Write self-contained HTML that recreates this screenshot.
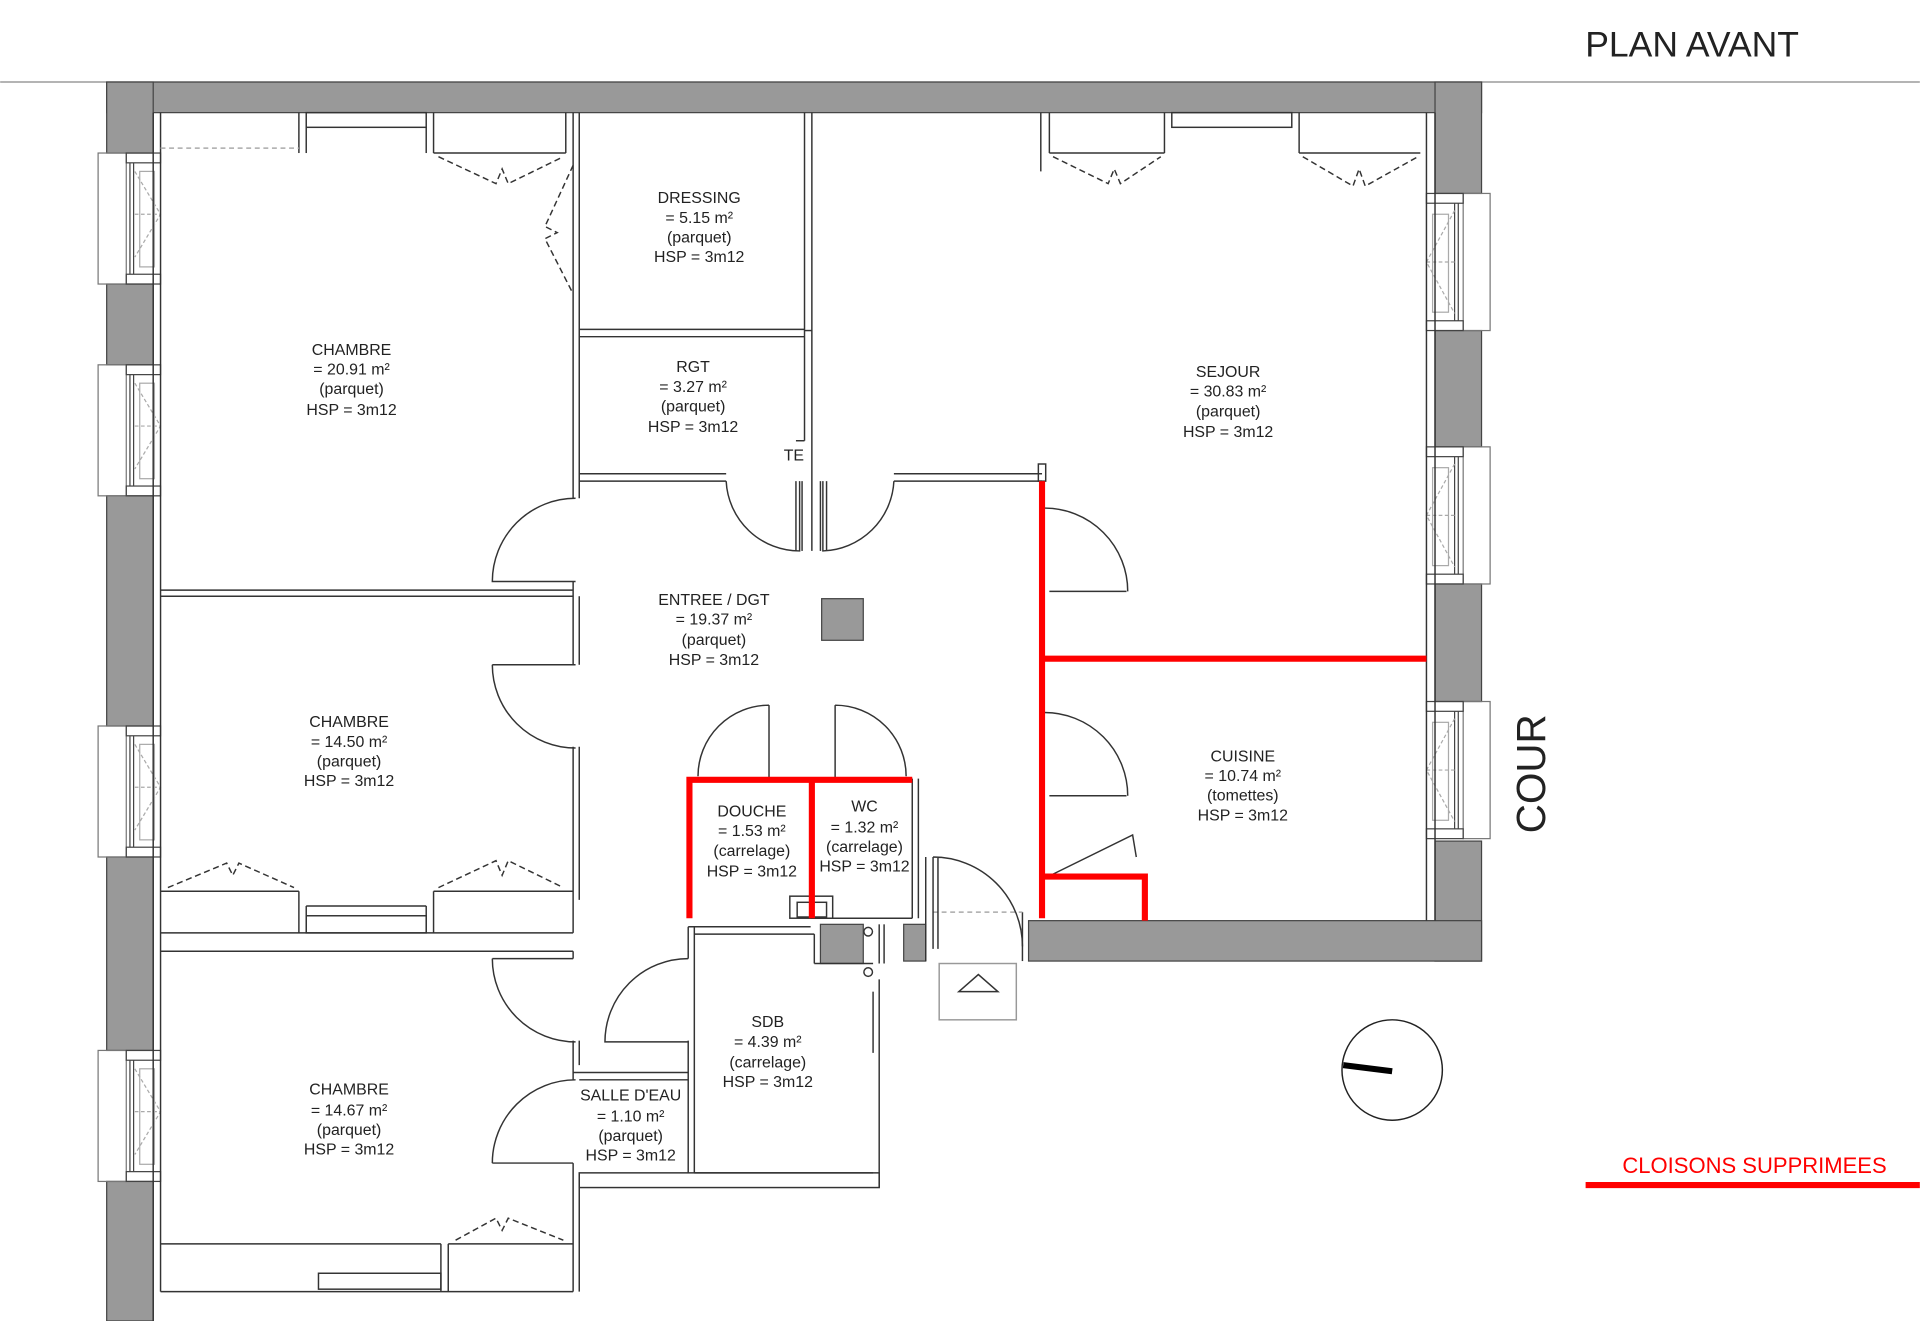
<!DOCTYPE html>
<html><head><meta charset="utf-8"><style>
html,body{margin:0;padding:0;background:#fff}
svg{display:block}
text{font-family:"Liberation Sans",sans-serif;fill:#222}
</style></head><body>
<svg width="1920" height="1321" viewBox="0 0 1568 1079" xmlns="http://www.w3.org/2000/svg">
<rect width="1568" height="1079" fill="#fff"/>
<text x="1382" y="46" font-size="29" text-anchor="middle" fill="#111">PLAN AVANT</text>
<line x1="0" y1="67" x2="1568" y2="67" stroke="#888" stroke-width="1"/>

<!-- grey walls -->
<g fill="#999" stroke="#444" stroke-width="1">
<rect x="87" y="67" width="1123" height="25"/>
<rect x="87" y="67" width="38" height="58"/>
<rect x="87" y="232" width="38" height="66"/>
<rect x="87" y="405" width="38" height="188"/>
<rect x="87" y="700" width="38" height="158"/>
<rect x="87" y="965" width="38" height="114"/>
<rect x="1172" y="67" width="38" height="91"/>
<rect x="1172" y="270" width="38" height="95"/>
<rect x="1172" y="477" width="38" height="96"/>
<rect x="1172" y="687" width="38" height="98"/>
<rect x="840" y="752" width="370" height="33"/>
<rect x="670" y="755" width="35" height="32"/>
<rect x="738" y="755" width="18" height="30"/>
<rect x="671" y="489" width="34" height="34"/>
</g>

<!-- windows left -->
<g fill="none" stroke="#444" stroke-width="1">
<g id="wl">
<rect x="80" y="125" width="23" height="107" stroke="#777"/>
<rect x="103" y="125" width="28" height="8"/>
<rect x="103" y="224" width="28" height="8"/>
<line x1="106" y1="133" x2="106" y2="224"/><line x1="109" y1="133" x2="109" y2="224"/>
<rect x="114" y="140" width="12" height="78" stroke="#aaa"/>
<path d="M110 140 L131 175 L110 210 M110 175 L131 175" stroke="#aaa" stroke-dasharray="3 2"/>
</g>
<use href="#wl" y="173"/>
<use href="#wl" y="468"/>
<use href="#wl" y="733"/>
<g id="wr">
<rect x="1195" y="158" width="22" height="112" stroke="#777"/>
<rect x="1165" y="158" width="30" height="8"/>
<rect x="1165" y="262" width="30" height="8"/>
<line x1="1188" y1="166" x2="1188" y2="262"/><line x1="1191" y1="166" x2="1191" y2="262"/>
<rect x="1170" y="175" width="13" height="80" stroke="#aaa"/>
<path d="M1188 172 L1165 214 L1188 256 M1165 214 L1188 214" stroke="#aaa" stroke-dasharray="3 2"/>
</g>
<use href="#wr" y="207"/>
<use href="#wr" y="415"/>
</g>

<!-- interior walls -->
<g fill="none" stroke="#333" stroke-width="1.2">
<!-- perimeter inner lines -->
<line x1="125" y1="92" x2="125" y2="1079"/><line x1="131" y1="92" x2="131" y2="1055"/>
<line x1="1165" y1="92" x2="1165" y2="752"/><line x1="1172" y1="92" x2="1172" y2="752"/>
<!-- top closets chambre1 -->
<rect x="250" y="92" width="98" height="12"/><line x1="244" y1="92" x2="244" y2="125"/><line x1="250" y1="104" x2="250" y2="125"/>
<line x1="348" y1="104" x2="348" y2="125"/><line x1="354" y1="92" x2="354" y2="125"/>
<line x1="131" y1="121" x2="244" y2="121" stroke="#aaa" stroke-dasharray="4 3"/>
<line x1="354" y1="125" x2="462" y2="125"/>
<path d="M358 128 L405 150 L410 138 L415 150 L460 128" stroke-dasharray="5 3"/>
<line x1="462" y1="92" x2="462" y2="125"/>
<!-- sejour top closets -->
<rect x="957" y="92" width="98" height="12"/><line x1="850" y1="92" x2="850" y2="140"/><line x1="857" y1="92" x2="857" y2="125"/>
<line x1="951" y1="92" x2="951" y2="125"/><line x1="1061" y1="92" x2="1061" y2="125"/>
<line x1="857" y1="125" x2="951" y2="125"/><line x1="1061" y1="125" x2="1160" y2="125"/>
<path d="M860 128 L905 150 L910 138 L915 150 L948 128" stroke-dasharray="5 3"/>
<path d="M1064 128 L1105 152 L1110 138 L1115 152 L1158 128" stroke-dasharray="5 3"/>
<!-- chambre1 / dressing vertical -->
<line x1="468" y1="92" x2="468" y2="407"/><line x1="473" y1="92" x2="473" y2="407"/>
<path d="M468 135 L445 185 L455 190 L445 195 L468 240" stroke-dasharray="5 3"/>
<line x1="468" y1="475" x2="468" y2="543"/><line x1="473" y1="487" x2="473" y2="543"/>
<line x1="468" y1="610" x2="468" y2="762"/><line x1="473" y1="610" x2="473" y2="735"/>
<!-- dressing / rgt -->
<line x1="473" y1="269" x2="657" y2="269"/><line x1="473" y1="275" x2="657" y2="275"/>
<line x1="657" y1="92" x2="657" y2="360"/><line x1="663" y1="92" x2="663" y2="450"/>
<line x1="657" y1="270" x2="663" y2="270"/>
<line x1="473" y1="387" x2="593" y2="387"/><line x1="473" y1="393" x2="593" y2="393"/>
<line x1="730" y1="387" x2="851" y2="387"/><line x1="730" y1="393" x2="851" y2="393"/>
<rect x="848" y="379" width="6" height="14"/>
<line x1="650" y1="393" x2="650" y2="450"/><line x1="655" y1="393" x2="655" y2="450"/>
<line x1="670" y1="393" x2="670" y2="450"/><line x1="675" y1="393" x2="675" y2="450"/>
<line x1="650" y1="360" x2="657" y2="360"/>
<!-- chambre1/chambre2 -->
<line x1="131" y1="482" x2="468" y2="482"/><line x1="131" y1="487" x2="468" y2="487"/>
<!-- chambre2 bottom closets -->
<line x1="131" y1="728" x2="244" y2="728"/><line x1="354" y1="728" x2="468" y2="728"/>
<path d="M137 725 L185 705 L190 715 L195 705 L240 725" stroke-dasharray="5 3"/>
<path d="M358 725 L405 703 L410 715 L415 703 L460 725" stroke-dasharray="5 3"/>
<line x1="244" y1="728" x2="244" y2="762"/><line x1="250" y1="740" x2="250" y2="762"/>
<line x1="348" y1="740" x2="348" y2="762"/><line x1="354" y1="728" x2="354" y2="762"/>
<line x1="250" y1="740" x2="348" y2="740"/>
<rect x="250" y="748" width="98" height="14"/>
<line x1="131" y1="762" x2="468" y2="762"/><line x1="131" y1="777" x2="468" y2="777"/>
<!-- chambre3 -->
<line x1="468" y1="777" x2="468" y2="783"/>
<line x1="468" y1="850" x2="468" y2="882"/><line x1="473" y1="850" x2="473" y2="870"/>
<line x1="468" y1="950" x2="468" y2="1055"/><line x1="473" y1="958" x2="473" y2="1055"/>
<line x1="131" y1="1055" x2="468" y2="1055"/>
<line x1="131" y1="1016" x2="360" y2="1016"/>
<path d="M372 1013 L405 995 L410 1005 L415 995 L460 1013" stroke-dasharray="5 3"/>
<line x1="360" y1="1016" x2="360" y2="1055"/><line x1="366" y1="1016" x2="366" y2="1055"/>
<rect x="260" y="1040" width="100" height="13"/>
<line x1="366" y1="1016" x2="468" y2="1016"/>
<!-- salle d'eau / sdb -->
<line x1="468" y1="876" x2="562" y2="876"/><line x1="473" y1="882" x2="562" y2="882"/>
<line x1="562" y1="850" x2="562" y2="958"/><line x1="567" y1="757" x2="567" y2="958"/>
<line x1="562" y1="757" x2="562" y2="783"/>
<line x1="562" y1="757" x2="662" y2="757"/><line x1="567" y1="763" x2="665" y2="763"/>
<rect x="473" y="958" width="245" height="12"/>
<line x1="718" y1="800" x2="718" y2="970"/><line x1="713" y1="810" x2="713" y2="860"/>
<line x1="567" y1="958" x2="713" y2="958"/>
<!-- douche/wc stub -->
<rect x="645" y="732" width="35" height="18"/><rect x="651" y="737" width="24" height="12"/>
<line x1="745" y1="636" x2="745" y2="750"/><line x1="750" y1="636" x2="750" y2="750"/>
<line x1="662" y1="750" x2="745" y2="750"/>
<line x1="665" y1="763" x2="665" y2="787"/><line x1="665" y1="787" x2="713" y2="787"/>
<line x1="718" y1="755" x2="718" y2="787"/><line x1="722" y1="755" x2="722" y2="787"/>
<circle cx="709" cy="761" r="3.5"/><circle cx="709" cy="794" r="3.5"/>
<line x1="756" y1="700" x2="756" y2="785"/>
<line x1="835" y1="745" x2="835" y2="785"/>
<line x1="762" y1="745" x2="835" y2="745" stroke="#aaa" stroke-dasharray="4 3"/>
<rect x="767" y="787" width="63" height="46" stroke="#999"/>
<path d="M783 810 L799 796 L815 810 Z"/>
<!-- kitchen/sejour door jamb lines -->
<line x1="857" y1="483" x2="920" y2="483"/><line x1="857" y1="650" x2="920" y2="650"/>
<path d="M860 714 L925 682 L928 700" />
<!-- doors -->
<path d="M470 407 A68 68 0 0 0 402 475 L470 475"/>
<path d="M402 543 A68 68 0 0 0 470 611 M402 543 L470 543"/>
<path d="M593 393 A60 60 0 0 0 653 450 L653 393"/>
<path d="M730 393 A60 60 0 0 1 672 450 L672 393"/>
<path d="M628 576 A58 58 0 0 0 570 634 M628 576 L628 636"/>
<path d="M682 576 A58 58 0 0 1 740 634 M682 576 L682 636"/>
<path d="M853 415 A68 68 0 0 1 921 483"/>
<path d="M853 582 A68 68 0 0 1 921 650"/>
<path d="M402 783 A68 68 0 0 0 470 851 M402 783 L468 783"/>
<path d="M402 950 A68 68 0 0 1 470 882 M402 950 L468 950"/>
<path d="M562 783 A68 68 0 0 0 494 851 L562 851"/>
<path d="M762 700 A73 73 0 0 1 835 773 M762 700 L762 775 M766 700 L766 775"/>
</g>
<text x="640" y="376" font-size="13" fill="#777" font-family="Liberation Serif">TE</text>

<!-- red removed partitions -->
<g stroke="#f00" stroke-width="5" fill="none">
<line x1="851" y1="393" x2="851" y2="750"/>
<line x1="851" y1="538" x2="1165" y2="538"/>
<polyline points="851,716 935,716 935,752"/>
<polyline points="563,750 563,637 745,637"/>
<line x1="663" y1="637" x2="663" y2="750"/>
</g>

<!-- labels -->
<g font-size="13" text-anchor="middle">
<text x="571" y="166">DRESSING</text><text x="571" y="182">= 5.15 m²</text><text x="571" y="198">(parquet)</text><text x="571" y="214">HSP = 3m12</text>
<text x="566" y="304">RGT</text><text x="566" y="320">= 3.27 m²</text><text x="566" y="336">(parquet)</text><text x="566" y="353">HSP = 3m12</text>
<text x="287" y="290">CHAMBRE</text><text x="287" y="306">= 20.91 m²</text><text x="287" y="322">(parquet)</text><text x="287" y="339">HSP = 3m12</text>
<text x="1003" y="308">SEJOUR</text><text x="1003" y="324">= 30.83 m²</text><text x="1003" y="340">(parquet)</text><text x="1003" y="357">HSP = 3m12</text>
<text x="583" y="494">ENTREE / DGT</text><text x="583" y="510">= 19.37 m²</text><text x="583" y="527">(parquet)</text><text x="583" y="543">HSP = 3m12</text>
<text x="285" y="594">CHAMBRE</text><text x="285" y="610">= 14.50 m²</text><text x="285" y="626">(parquet)</text><text x="285" y="642">HSP = 3m12</text>
<text x="1015" y="622">CUISINE</text><text x="1015" y="638">= 10.74 m²</text><text x="1015" y="654">(tomettes)</text><text x="1015" y="670">HSP = 3m12</text>
<text x="614" y="667">DOUCHE</text><text x="614" y="683">= 1.53 m²</text><text x="614" y="699">(carrelage)</text><text x="614" y="716">HSP = 3m12</text>
<text x="706" y="663">WC</text><text x="706" y="680">= 1.32 m²</text><text x="706" y="696">(carrelage)</text><text x="706" y="712">HSP = 3m12</text>
<text x="627" y="839">SDB</text><text x="627" y="855">= 4.39 m²</text><text x="627" y="872">(carrelage)</text><text x="627" y="888">HSP = 3m12</text>
<text x="285" y="894">CHAMBRE</text><text x="285" y="911">= 14.67 m²</text><text x="285" y="927">(parquet)</text><text x="285" y="943">HSP = 3m12</text>
<text x="515" y="899">SALLE D'EAU</text><text x="515" y="916">= 1.10 m²</text><text x="515" y="932">(parquet)</text><text x="515" y="948">HSP = 3m12</text>
</g>

<text transform="translate(1262,632) rotate(-90)" font-size="33" text-anchor="middle" fill="#111">COUR</text>

<circle cx="1137" cy="874" r="41" fill="none" stroke="#222" stroke-width="1.2"/>
<line x1="1097" y1="870" x2="1137" y2="875" stroke="#000" stroke-width="5"/>

<text x="1433" y="958" font-size="18" text-anchor="middle" fill="#f00" style="fill:#f00">CLOISONS SUPPRIMEES</text>
<line x1="1295" y1="968" x2="1568" y2="968" stroke="#f00" stroke-width="5"/>
</svg>
</body></html>
